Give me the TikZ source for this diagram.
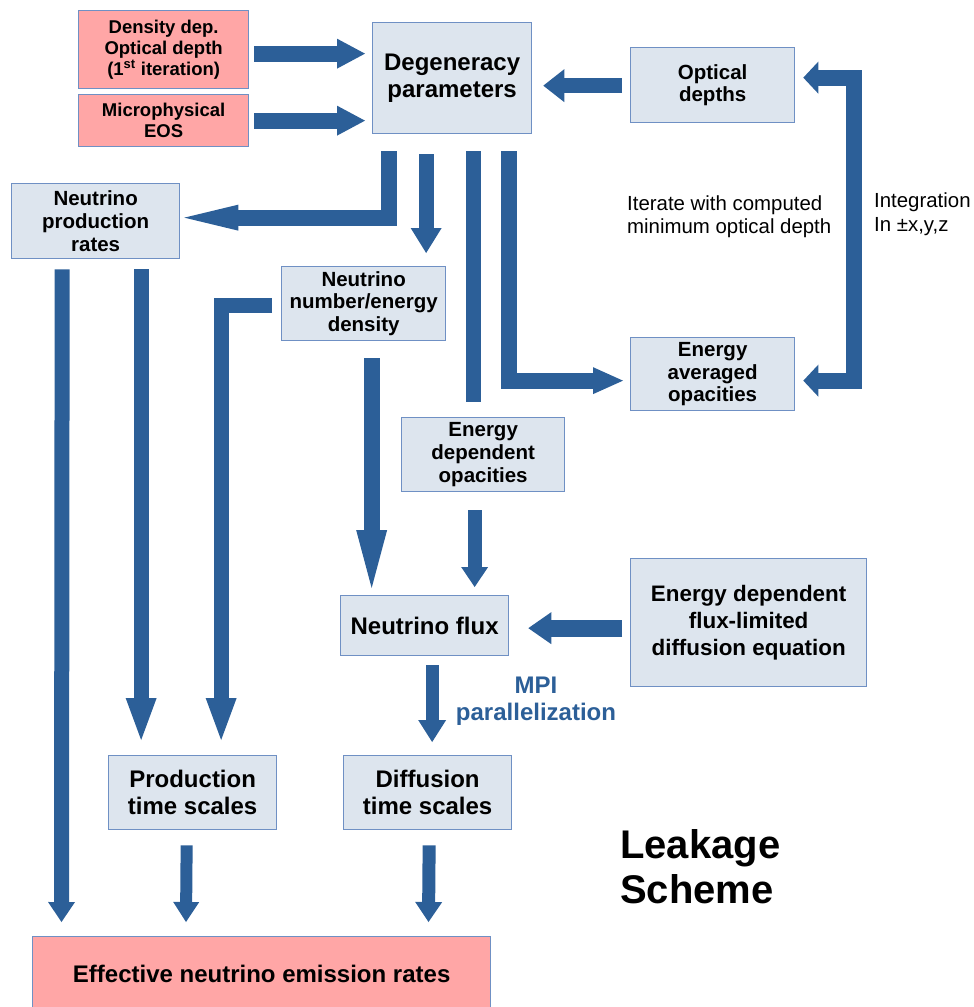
\documentclass[tikz,border=0pt]{standalone}
\usepackage{fontspec}
\setmainfont{Liberation Sans}
\usetikzlibrary{arrows.meta,calc}
\definecolor{arrblue}{HTML}{2C5F98}
\definecolor{boxfill}{HTML}{DDE5EE}
\definecolor{boxline}{HTML}{6F90C4}
\definecolor{pinkfill}{HTML}{FFA6A6}
\begin{document}
\begin{tikzpicture}[x=1pt,y=-1pt,
  box/.style={draw=boxline,fill=boxfill,line width=1.3pt,anchor=north west,
    align=center,inner sep=0pt},
  pinkbox/.style={box,fill=pinkfill},
  fS/.style={font=\bfseries\fontsize{18.5}{20.7}\selectfont},
  fM/.style={font=\bfseries\fontsize{20.5}{22.8}\selectfont},
  fL/.style={font=\bfseries\fontsize{24}{27.5}\selectfont},
  arr/.style n args={3}{draw=arrblue,line width=#1pt,
    -{Triangle[length=#2pt,width=#3pt,line width=0pt]}},
  bar/.style={draw=arrblue,line width=#1pt},
  lbl/.style={inner sep=0pt,align=left,anchor=west,font=\fontsize{20.4}{23.5}\selectfont}
]
\useasboundingbox (0,0) rectangle (974,1007);
% boxes
\node[pinkbox,fS,minimum width=170pt,minimum height=78pt] (dens) at (78,10)
  {Density dep.\\Optical depth\\(1\textsuperscript{st} iteration)};
\node[pinkbox,fS,minimum width=170pt,minimum height=52pt] (eos) at (78,94)
  {Microphysical\\EOS};
\node[box,fL,minimum width=159pt,minimum height=111pt] (deg) at (372,22)
  {Degeneracy\\parameters};
\node[box,fM,minimum width=164pt,minimum height=75pt] (opt) at (630,47)
  {Optical\\depths};
\node[box,fM,minimum width=168pt,minimum height=75pt] (prod) at (11,183)
  {Neutrino\\production\\rates};
\node[box,fM,minimum width=164pt,minimum height=74pt] (numd) at (281,266)
  {Neutrino\\number/energy\\density};
\node[box,fM,minimum width=164pt,minimum height=73pt] (eavg) at (630,337)
  {Energy\\averaged\\opacities};
\node[box,fM,minimum width=163pt,minimum height=74pt] (edep) at (401,417)
  {Energy\\dependent\\opacities};
\node[box,fL,minimum width=168pt,minimum height=60pt] (flux) at (340,595)
  {Neutrino flux};
\node[box,font=\bfseries\fontsize{22.4}{27}\selectfont,minimum width=236pt,minimum height=128pt] (dfe) at (630,558)
  {Energy dependent\\flux-limited\\diffusion equation};
\node[box,fL,minimum width=168pt,minimum height=74pt] (pts) at (108,755)
  {Production\\time scales};
\node[box,fL,minimum width=168pt,minimum height=74pt] (dts) at (343,755)
  {Diffusion\\time scales};
\node[pinkbox,fL,minimum width=458pt,minimum height=74pt] (eff) at (32,936)
  {Effective neutrino emission rates};
% labels
\node[lbl] (iter) at (627,216.5) {Iterate with computed\\minimum optical depth};
\node[lbl] (integ) at (874,214) {Integration\\In ±x,y,z};
\node[inner sep=0pt,align=center,text=arrblue,fL] (mpi) at (536,701)
  {MPI\\parallelization};
\node[inner sep=0pt,align=left,anchor=west,font=\bfseries\fontsize{40}{45}\selectfont] (leak) at (620,867)
  {Leakage\\Scheme};
\coordinate (intr) at (853.5,230);
% connectors
\draw[arr={16}{28}{30}] ($(dens.east)+(5,4)$) -- ($(deg.west)+(-7,-24.5)$);
\draw[arr={16}{28}{30}] ($(eos.east)+(5,0)$) -- ($(deg.west)+(-7,42.5)$);
\draw[arr={15}{21}{33}] ($(opt.west)+(-8,0.5)$) -- ($(deg.east)+(11,7.5)$);
\draw[draw=arrblue,line width=16pt,
  {Triangle[length=15pt,width=32pt,line width=0pt]}-{Triangle[length=15pt,width=32pt,line width=0pt]}]
  ($(opt.east)+(8,-7.5)$) -| (intr) |- ($(eavg.east)+(8,6.5)$);
\draw[arr={16}{54}{26}] ($(deg.south)+(-63.5,17)$) |- ($(prod.east)+(4,-3.5)$);
\draw[arr={15}{25}{31}] ($(deg.south)+(-26,20)$) -- ($(numd.north)+(62.5,-13)$);
\draw[bar=15] ($(deg.south)+(21,17)$) -- ($(edep.north)+(-10,-15)$);
\draw[arr={16}{30}{27}] ($(deg.south)+(56.5,17)$) |- ($(eavg.west)+(-7,6.5)$);
\draw[arr={15}{20}{27}] ($(prod.south)+(-33.5,10)$) -- ($(eff.north west)+(29.5,-14)$);
\draw[arr={15}{42}{31}] ($(prod.south)+(45.5,10)$) -- ($(pts.north)+(-51.5,-15)$);
\draw[arr={15}{42}{31}] ($(numd.west)+(-9,1.5)$) -| ($(pts.north)+(28.5,-15)$);
\draw[arr={16}{58}{31}] ($(numd.south)+(8,17)$) -- ($(flux.north)+(-53,-7)$);
\draw[arr={14}{20}{27}] ($(edep.south)+(-8.5,18)$) -- ($(flux.north)+(50,-8)$);
\draw[arr={17}{23}{32}] ($(dfe.west)+(-8,5.5)$) -- ($(flux.east)+(19,2.5)$);
\draw[arr={13}{22}{28}] ($(flux.south)+(7.5,9)$) -- ($(dts.north)+(4.5,-13)$);
\draw[arr={12}{20}{26}] ($(pts.south)+(-6,15)$) -- ($(eff.north west)+(154,-14)$);
\draw[arr={13}{20}{27}] ($(dts.south)+(1.5,15)$) -- ($(eff.north west)+(396.5,-14)$);
\end{tikzpicture}
\end{document}
